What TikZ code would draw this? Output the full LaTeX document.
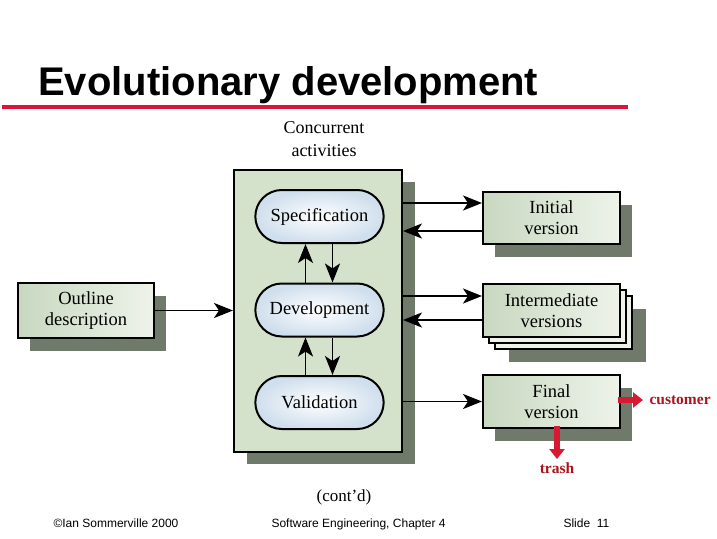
\documentclass[tikz,border=0pt]{standalone}
\usepackage{fontspec}
\setmainfont{Liberation Serif}
\setsansfont{Liberation Sans}
\usetikzlibrary{arrows.meta, shapes.misc, shadows, positioning}

\definecolor{titlered}{RGB}{220,20,60}
\definecolor{actgreen}{RGB}{212,226,204}
\definecolor{boxgreen}{RGB}{200,216,192}
\definecolor{boxlight}{RGB}{238,243,234}
\definecolor{shadegrey}{RGB}{112,122,106}
\definecolor{ovalblue}{RGB}{208,223,237}
\definecolor{arrowred}{RGB}{215,25,50}
\definecolor{labelred}{RGB}{170,20,30}

\begin{document}
\begin{tikzpicture}[x=1pt, y=-1pt,
    serif/.style={font=\fontsize{18.5}{21}\selectfont, align=center},
    actbox/.style={draw, line width=2pt, fill=actgreen,
        drop shadow={shadow xshift=13pt, shadow yshift=-12pt, fill=shadegrey, opacity=1}},
    oval/.style={serif, rounded rectangle, draw, line width=2pt,
        inner color=white, outer color=ovalblue,
        minimum width=135pt, minimum height=53pt},
    version/.style={serif, draw, line width=2pt,
        left color=boxgreen, right color=boxlight,
        minimum width=137pt, minimum height=53pt,
        drop shadow={shadow xshift=12pt, shadow yshift=-13pt, fill=shadegrey, opacity=1}},
    stack/.style={serif, draw, line width=2pt,
        left color=boxgreen, right color=boxlight,
        minimum width=137pt, minimum height=53pt,
        drop shadow={shadow xshift=26pt, shadow yshift=-25pt, fill=shadegrey, opacity=1},
        copy shadow={shadow xshift=12pt, shadow yshift=-12pt, draw=black, fill=boxlight, line width=2pt},
        copy shadow={shadow xshift=6pt, shadow yshift=-6pt, draw=black, fill=boxlight, line width=2pt}},
    flow/.style={line width=1.8pt, -{Stealth[length=19pt, width=15pt, inset=5pt]}},
    redarrow/.style={draw=arrowred, line width=5.5pt, -{Triangle[length=10pt, width=15pt]}},
    redlabel/.style={text=labelred, font=\bfseries\fontsize{15.5}{18}\selectfont},
    footer/.style={font=\sffamily\fontsize{12}{14}\selectfont, anchor=base west}
]
    \useasboundingbox (0,0) rectangle (717,538);

    % heading
    \node[anchor=base west, inner sep=0pt, font=\sffamily\bfseries\fontsize{40}{48}\selectfont] (title) at (38,95) {Evolutionary development};
    \draw[titlered, line width=3.5pt] (2,107) -- (628,107);

    \node[serif, font=\fontsize{18}{23}\selectfont] (conc) at (324,139.5) {Concurrent\\activities};

    % concurrent activities
    \node[actbox, minimum width=168pt, minimum height=282pt] (act) at (318,311) {};
    \node[oval] (spec) at (319.5,216.5) {Specification};
    \node[oval] (dev) at (319.5,310) {Development};
    \node[oval] (val) at (319.5,402.5) {Validation};

    \draw[flow] ([xshift=-14pt]dev.north) -- ([xshift=-14pt]spec.south);
    \draw[flow] ([xshift=13pt]spec.south) -- ([xshift=13pt]dev.north);
    \draw[flow] ([xshift=-14pt]val.north) -- ([xshift=-14pt]dev.south);
    \draw[flow] ([xshift=13pt]dev.south) -- ([xshift=13pt]val.north);

    % versions
    \node[version, minimum height=55pt, minimum width=136pt] (outline) at (86,310.5) {Outline\\description};
    \node[version, minimum height=52pt] (init) at (551.5,218) {Initial\\version};
    \node[stack] (inter) at (551.5,310.5) {Intermediate\\versions};
    \node[version] (final) at (551.5,401.5) {Final\\version};

    \draw[flow] (outline) -- (outline -| act.west);

    \coordinate (i1) at ([yshift=15pt]init.west);
    \coordinate (i2) at ([yshift=-13pt]init.west);
    \coordinate (m1) at ([yshift=14.5pt]inter.west);
    \coordinate (m2) at ([yshift=-9.5pt]inter.west);
    \draw[flow] (i1 -| act.east) -- (i1);
    \draw[flow] (i2) -- (i2 -| act.east);
    \draw[flow] (m1 -| act.east) -- (m1);
    \draw[flow] (m2) -- (m2 -| act.east);
    \draw[flow] (final -| act.east) -- (final.west);

    % where the final version goes
    \node[redlabel, anchor=west] (cust) at (646,400) {customer};
    \node[redlabel] (trash) at (557,468) {trash};
    \draw[redarrow] ([xshift=-3pt]final.east |- cust) -- ([xshift=-3pt]cust.west);
    \draw[redarrow] ([yshift=3pt]final.south -| trash) -- (trash.north);

    % footer
    \node[serif, font=\fontsize{17}{21}\selectfont] (contd) at (344,497) {(cont'd)};
    \node[footer] (copy) at (50,527) {\textcopyright Ian Sommerville 2000};
    \node[footer] (book) at (268,527) {Software Engineering, Chapter 4};
    \node[footer] (slide) at (560,527) {Slide\ \ 11};
\end{tikzpicture}
\end{document}
